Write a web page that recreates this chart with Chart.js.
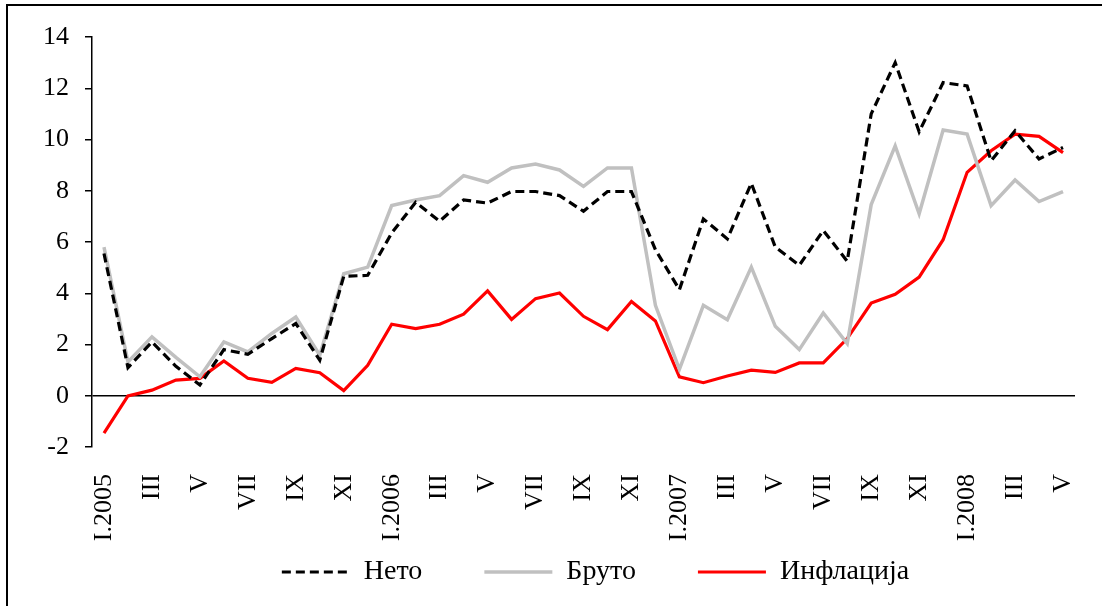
<!DOCTYPE html>
<html>
<head>
<meta charset="utf-8">
<script src="https://cdn.jsdelivr.net/npm/chart.js@4"></script>
<style>
  html, body { margin: 0; padding: 0; background: #fff; }
  .frame { position: absolute; left: 6px; top: 4px; width: 1200px; height: 700px; border: 2px solid #000; }
  .chart-box { position: absolute; left: 0; top: 0; width: 1102px; height: 606px; }
</style>
</head>
<body>
<div class="frame"></div>
<div class="chart-box"><canvas id="wageChart"></canvas></div>
<script>
const months = [
    "I.2005", "II", "III", "IV", "V", "VI", "VII", "VIII", "IX", "X", "XI", "XII",
    "I.2006", "II", "III", "IV", "V", "VI", "VII", "VIII", "IX", "X", "XI", "XII",
    "I.2007", "II", "III", "IV", "V", "VI", "VII", "VIII", "IX", "X", "XI", "XII",
    "I.2008", "II", "III", "IV", "V"
];

const neto = [5.55, 1.1, 2.1, 1.15, 0.42, 1.8, 1.62, 2.23, 2.82, 1.39, 4.66, 4.7,
    6.35, 7.55, 6.81, 7.64, 7.52, 7.97, 7.97, 7.81, 7.2, 7.97, 7.97, 5.7,
    4.14, 6.9, 6.12, 8.29, 5.8, 5.09, 6.45, 5.25, 11.0, 13.0, 10.3, 12.22,
    12.09, 9.17, 10.34, 9.24, 9.69];

const bruto = [5.8, 1.32, 2.3, 1.5, 0.74, 2.1, 1.71, 2.43, 3.07, 1.58, 4.76, 5.02,
    7.42, 7.64, 7.81, 8.59, 8.33, 8.89, 9.04, 8.81, 8.17, 8.89, 8.89, 3.53,
    1.03, 3.53, 2.97, 5.02, 2.71, 1.8, 3.23, 2.04, 7.46, 9.75, 7.1, 10.37,
    10.21, 7.42, 8.42, 7.58, 7.97];

const inflation = [-1.46, -0.01, 0.22, 0.61, 0.68, 1.36, 0.68, 0.52, 1.07, 0.9, 0.2, 1.19,
    2.79, 2.62, 2.79, 3.18, 4.09, 2.98, 3.79, 4.01, 3.1, 2.58, 3.68, 2.92,
    0.74, 0.51, 0.77, 1.0, 0.91, 1.28, 1.28, 2.23, 3.62, 3.96, 4.63, 6.09,
    8.72, 9.56, 10.21, 10.12, 9.49];

const seriesNames = ["Нето", "Бруто", "Инфлација"];

const serif = "'Liberation Serif', 'Times New Roman', serif";
const legendFontSize = 28;
const legendPadding = 62;
const legendTextY = 572;
const legendHeight = 20;
const plotBottom = 447;

// the legend sits closer to the rotated month labels than chart.js would place it
const legendShift = {
    id: 'legendShift',
    afterLayout(chart) {
        const lg = chart.legend;
        if (!lg) return;
        lg.top = legendTextY - legendPadding - legendFontSize / 2;
        lg.bottom = lg.top + legendPadding + legendFontSize + 20;
        lg.height = lg.bottom - lg.top;
        lg.left += 58;
        lg.right += 58;
    }
};

new Chart(document.getElementById('wageChart'), {
    type: 'line',
    data: {
        labels: months,
        datasets: [
            {
                label: seriesNames[0],
                data: neto,
                borderColor: '#000000',
                borderWidth: 3.2,
                borderDash: [9, 5],
                pointRadius: 0,
                pointStyle: 'line',
                tension: 0
            },
            {
                label: seriesNames[1],
                data: bruto,
                borderColor: '#c0c0c0',
                borderWidth: 3.5,
                pointRadius: 0,
                pointStyle: 'line',
                tension: 0
            },
            {
                label: seriesNames[2],
                data: inflation,
                borderColor: '#ff0000',
                borderWidth: 3.2,
                pointRadius: 0,
                pointStyle: 'line',
                tension: 0
            }
        ]
    },
    plugins: [legendShift],
    options: {
        responsive: true,
        maintainAspectRatio: false,
        animation: false,
        layout: {
            padding: { top: 37, right: 27, bottom: 0, left: 0 }
        },
        plugins: {
            tooltip: { enabled: false },
            legend: {
                position: 'bottom',
                maxHeight: legendHeight,
                labels: {
                    usePointStyle: true,
                    pointStyleWidth: 68,
                    padding: legendPadding,
                    color: '#000',
                    font: { family: serif, size: legendFontSize },
                    generateLabels: (chart) => {
                        const items = Chart.defaults.plugins.legend.labels.generateLabels(chart);
                        items.forEach((item) => {
                            const ds = chart.data.datasets[item.datasetIndex];
                            item.lineDash = ds.borderDash || [];
                            item.lineWidth = ds.borderWidth;
                            item.strokeStyle = ds.borderColor;
                        });
                        return items;
                    }
                }
            }
        },
        scales: {
            x: {
                offset: true,
                border: { display: false },
                grid: { display: false, drawTicks: false },
                afterFit: (scale) => {
                    scale.height = 606 - plotBottom - legendHeight;
                    scale.paddingLeft = 0;
                    scale.paddingRight = 0;
                },
                ticks: {
                    autoSkip: false,
                    minRotation: 90,
                    maxRotation: 90,
                    padding: 27,
                    color: '#000',
                    font: { family: serif, size: 26 },
                    callback: function (value, index) {
                        return index % 2 === 0 ? months[index] : '';
                    }
                }
            },
            y: {
                min: -2,
                max: 14,
                border: { display: true, color: '#000', width: 1.5 },
                grid: {
                    drawOnChartArea: true,
                    color: (ctx) => ctx.tick && ctx.tick.value === 0 ? '#000' : 'rgba(0,0,0,0)',
                    lineWidth: 1.5,
                    tickColor: '#000',
                    tickLength: 7
                },
                afterFit: (scale) => { scale.width = 92; },
                ticks: {
                    stepSize: 2,
                    padding: 16,
                    color: '#000',
                    font: { family: serif, size: 26 }
                }
            }
        }
    }
});
</script>
</body>
</html>
